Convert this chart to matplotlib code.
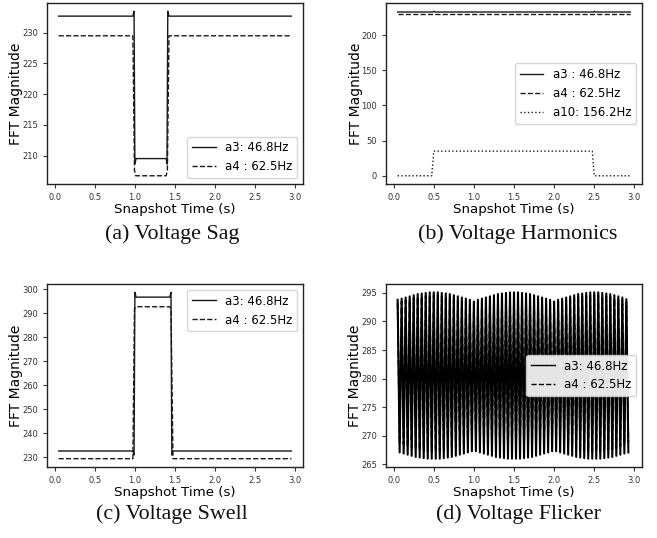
import numpy as np
import matplotlib
matplotlib.use('Agg')
import matplotlib.pyplot as plt
from matplotlib.ticker import MultipleLocator

# ---- data ----
# (a) voltage sag
sag_t_a3 = [0.05, 0.975, 0.99, 1.0, 1.015, 1.39, 1.40, 1.41, 1.425, 2.95]
sag_a3 = [232.7, 232.7, 233.5, 208.6, 209.5, 209.5, 208.6, 233.5, 232.7, 232.7]
sag_t_a4 = [0.05, 0.975, 0.995, 1.01, 1.39, 1.405, 1.425, 2.95]
sag_a4 = [229.5, 229.5, 207.6, 206.7, 206.7, 207.6, 229.5, 229.5]

# (b) voltage harmonics
harm_t_a3 = [0.05, 0.49, 0.5, 0.51, 2.49, 2.5, 2.51, 2.95]
harm_a3 = [232.7, 232.7, 233.8, 232.7, 232.7, 233.8, 232.7, 232.7]
harm_t_a4 = [0.05, 2.95]
harm_a4 = [229.5, 229.5]
harm_t_a10 = [0.05, 0.475, 0.5, 2.475, 2.5, 2.95]
harm_a10 = [0.0, 0.0, 35.0, 35.0, 0.0, 0.0]

# (c) voltage swell
swell_t_a3 = [0.05, 0.975, 0.99, 1.0, 1.015, 1.435, 1.45, 1.46, 1.475, 2.95]
swell_a3 = [232.7, 232.7, 231.0, 298.8, 296.8, 296.8, 298.8, 231.0, 232.7, 232.7]
swell_t_a4 = [0.05, 0.975, 0.995, 1.01, 1.435, 1.45, 1.475, 2.95]
swell_a4 = [229.5, 229.5, 292.0, 292.8, 292.8, 292.0, 229.5, 229.5]

# (d) voltage flicker: peak / trough of every snapshot pair
flk_a3_peak = [293.8, 294.0, 294.2, 294.4, 294.6, 294.8, 294.9, 295.0, 295.1, 295.1,
               295.1, 295.0, 294.9, 294.8, 294.6, 294.4, 294.2, 294.0, 293.8, 293.5,
               293.8, 294.0, 294.2, 294.4, 294.6, 294.8, 294.9, 295.0, 295.1, 295.1,
               295.1, 295.0, 294.9, 294.8, 294.6, 294.4, 294.2, 294.0, 293.8, 293.5,
               293.8, 294.0, 294.2, 294.4, 294.6, 294.8, 294.9, 295.0, 295.1, 295.1,
               295.1, 295.0, 294.9, 294.8, 294.6, 294.4, 294.2, 293.9]
flk_a3_trough = [267.1, 266.9, 266.7, 266.5, 266.3, 266.2, 266.1, 266.0, 266.0,
                 266.0, 266.0, 266.1, 266.2, 266.3, 266.5, 266.7, 266.9, 267.1, 267.3,
                 267.3, 267.1, 266.9, 266.7, 266.5, 266.3, 266.2, 266.1, 266.0, 266.0,
                 266.0, 266.0, 266.1, 266.2, 266.3, 266.5, 266.7, 266.9, 267.1, 267.3,
                 267.3, 267.1, 266.9, 266.7, 266.5, 266.3, 266.2, 266.1, 266.0, 266.0,
                 266.0, 266.0, 266.1, 266.2, 266.3, 266.5, 266.7, 266.9, 267.1]
flk_a4_peak = [293.3, 293.5, 293.7, 293.9, 294.1, 294.3, 294.4, 294.5, 294.6, 294.6,
               294.6, 294.5, 294.4, 294.3, 294.1, 293.9, 293.7, 293.5, 293.3, 293.0,
               293.3, 293.5, 293.7, 293.9, 294.1, 294.3, 294.4, 294.5, 294.6, 294.6,
               294.6, 294.5, 294.4, 294.3, 294.1, 293.9, 293.7, 293.5, 293.3, 293.0,
               293.3, 293.5, 293.7, 293.9, 294.1, 294.3, 294.4, 294.5, 294.6, 294.6,
               294.6, 294.5, 294.4, 294.3, 294.1, 293.9, 293.7, 293.4]
flk_a4_trough = [268.8, 268.5, 268.2, 267.9, 267.7, 267.5, 267.4, 267.3, 267.3,
                 267.3, 267.3, 267.4, 267.5, 267.7, 267.9, 268.2, 268.5, 268.8, 269.2,
                 269.2, 268.8, 268.5, 268.2, 267.9, 267.7, 267.5, 267.4, 267.3, 267.3,
                 267.3, 267.3, 267.4, 267.5, 267.7, 267.9, 268.2, 268.5, 268.8, 269.2,
                 269.2, 268.8, 268.5, 268.2, 267.9, 267.7, 267.5, 267.4, 267.3, 267.3,
                 267.3, 267.3, 267.4, 267.5, 267.7, 267.9, 268.2, 268.5, 268.8]

# snapshot times: peaks every 0.05 s, troughs in between
t_peak = np.round(0.05 + 0.05 * np.arange(len(flk_a3_peak)), 3)
t_trough = t_peak + 0.025


def interleave(a, b):
    out = np.empty(len(a) + len(b))
    out[0::2] = a
    out[1::2] = b
    return out


flk_t = interleave(t_peak, t_trough)
flk_a3 = interleave(flk_a3_peak, flk_a3_trough)
flk_a4 = interleave(flk_a4_peak, flk_a4_trough)

# ---- figure ----
fig = plt.figure(figsize=(6.57, 5.38), dpi=100)
W, H = 657.0, 538.0


def make_ax(x0, y0, x1, y1):
    return fig.add_axes([x0 / W, 1 - y1 / H, (x1 - x0) / W, (y1 - y0) / H])


def style(ax, ystep):
    ax.set_xlim(-0.095, 3.095)
    ax.xaxis.set_major_locator(MultipleLocator(0.5))
    ax.yaxis.set_major_locator(MultipleLocator(ystep))
    ax.tick_params(labelsize=6, colors='#333333', length=3, width=0.8)
    for s in ax.spines.values():
        s.set_color('#222222')
        s.set_linewidth(1.0)
    ax.set_xlabel('Snapshot Time (s)', fontsize=9.6, labelpad=1)
    ax.set_ylabel('FFT Magnitude', fontsize=10, labelpad=-1)


lw = 1.0
ink = '#1a1a1a'
ax_a = make_ax(47, 3, 303, 184)
ax_a.plot(sag_t_a3, sag_a3, '-', color=ink, lw=lw, label='a3: 46.8Hz')
ax_a.plot(sag_t_a4, sag_a4, '--', color=ink, lw=lw, label='a4 : 62.5Hz')
style(ax_a, 5)
ax_a.legend(loc='lower right', fontsize=8.5)

ax_b = make_ax(386, 3, 642, 184)
ax_b.plot(harm_t_a3, harm_a3, '-', color=ink, lw=lw, label='a3 : 46.8Hz')
ax_b.plot(harm_t_a4, harm_a4, '--', color=ink, lw=lw, label='a4 : 62.5Hz')
ax_b.plot(harm_t_a10, harm_a10, ':', color=ink, lw=lw, label='a10: 156.2Hz')
style(ax_b, 50)
ax_b.legend(loc='center right', fontsize=8.5)

ax_c = make_ax(47, 284, 303, 467)
ax_c.plot(swell_t_a3, swell_a3, '-', color=ink, lw=lw, label='a3: 46.8Hz')
ax_c.plot(swell_t_a4, swell_a4, '--', color=ink, lw=lw, label='a4 : 62.5Hz')
style(ax_c, 10)
ax_c.legend(loc='upper right', fontsize=8.5)

ax_d = make_ax(386, 284, 642, 467)
ax_d.plot(flk_t, flk_a3, '-', color='black', lw=1.5, label='a3: 46.8Hz')
ax_d.plot(flk_t, flk_a4, '--', color='black', lw=1.3, label='a4 : 62.5Hz')
style(ax_d, 5)
leg = ax_d.legend(loc='center right', fontsize=8.5)
for h in leg.get_lines():
    h.set_linewidth(1.0)
leg.get_frame().set_alpha(0.9)

cap = dict(fontsize=15.8, family='Liberation Serif', ha='center', va='center', color='#111111')
fig.text(172 / W, 1 - 234 / H, '(a) Voltage Sag', **cap)
fig.text(518 / W, 1 - 234 / H, '(b) Voltage Harmonics', **cap)
fig.text(172 / W, 1 - 514 / H, '(c) Voltage Swell', **cap)
fig.text(518 / W, 1 - 514 / H, '(d) Voltage Flicker', **cap)

fig.savefig('out.png', dpi=100)
